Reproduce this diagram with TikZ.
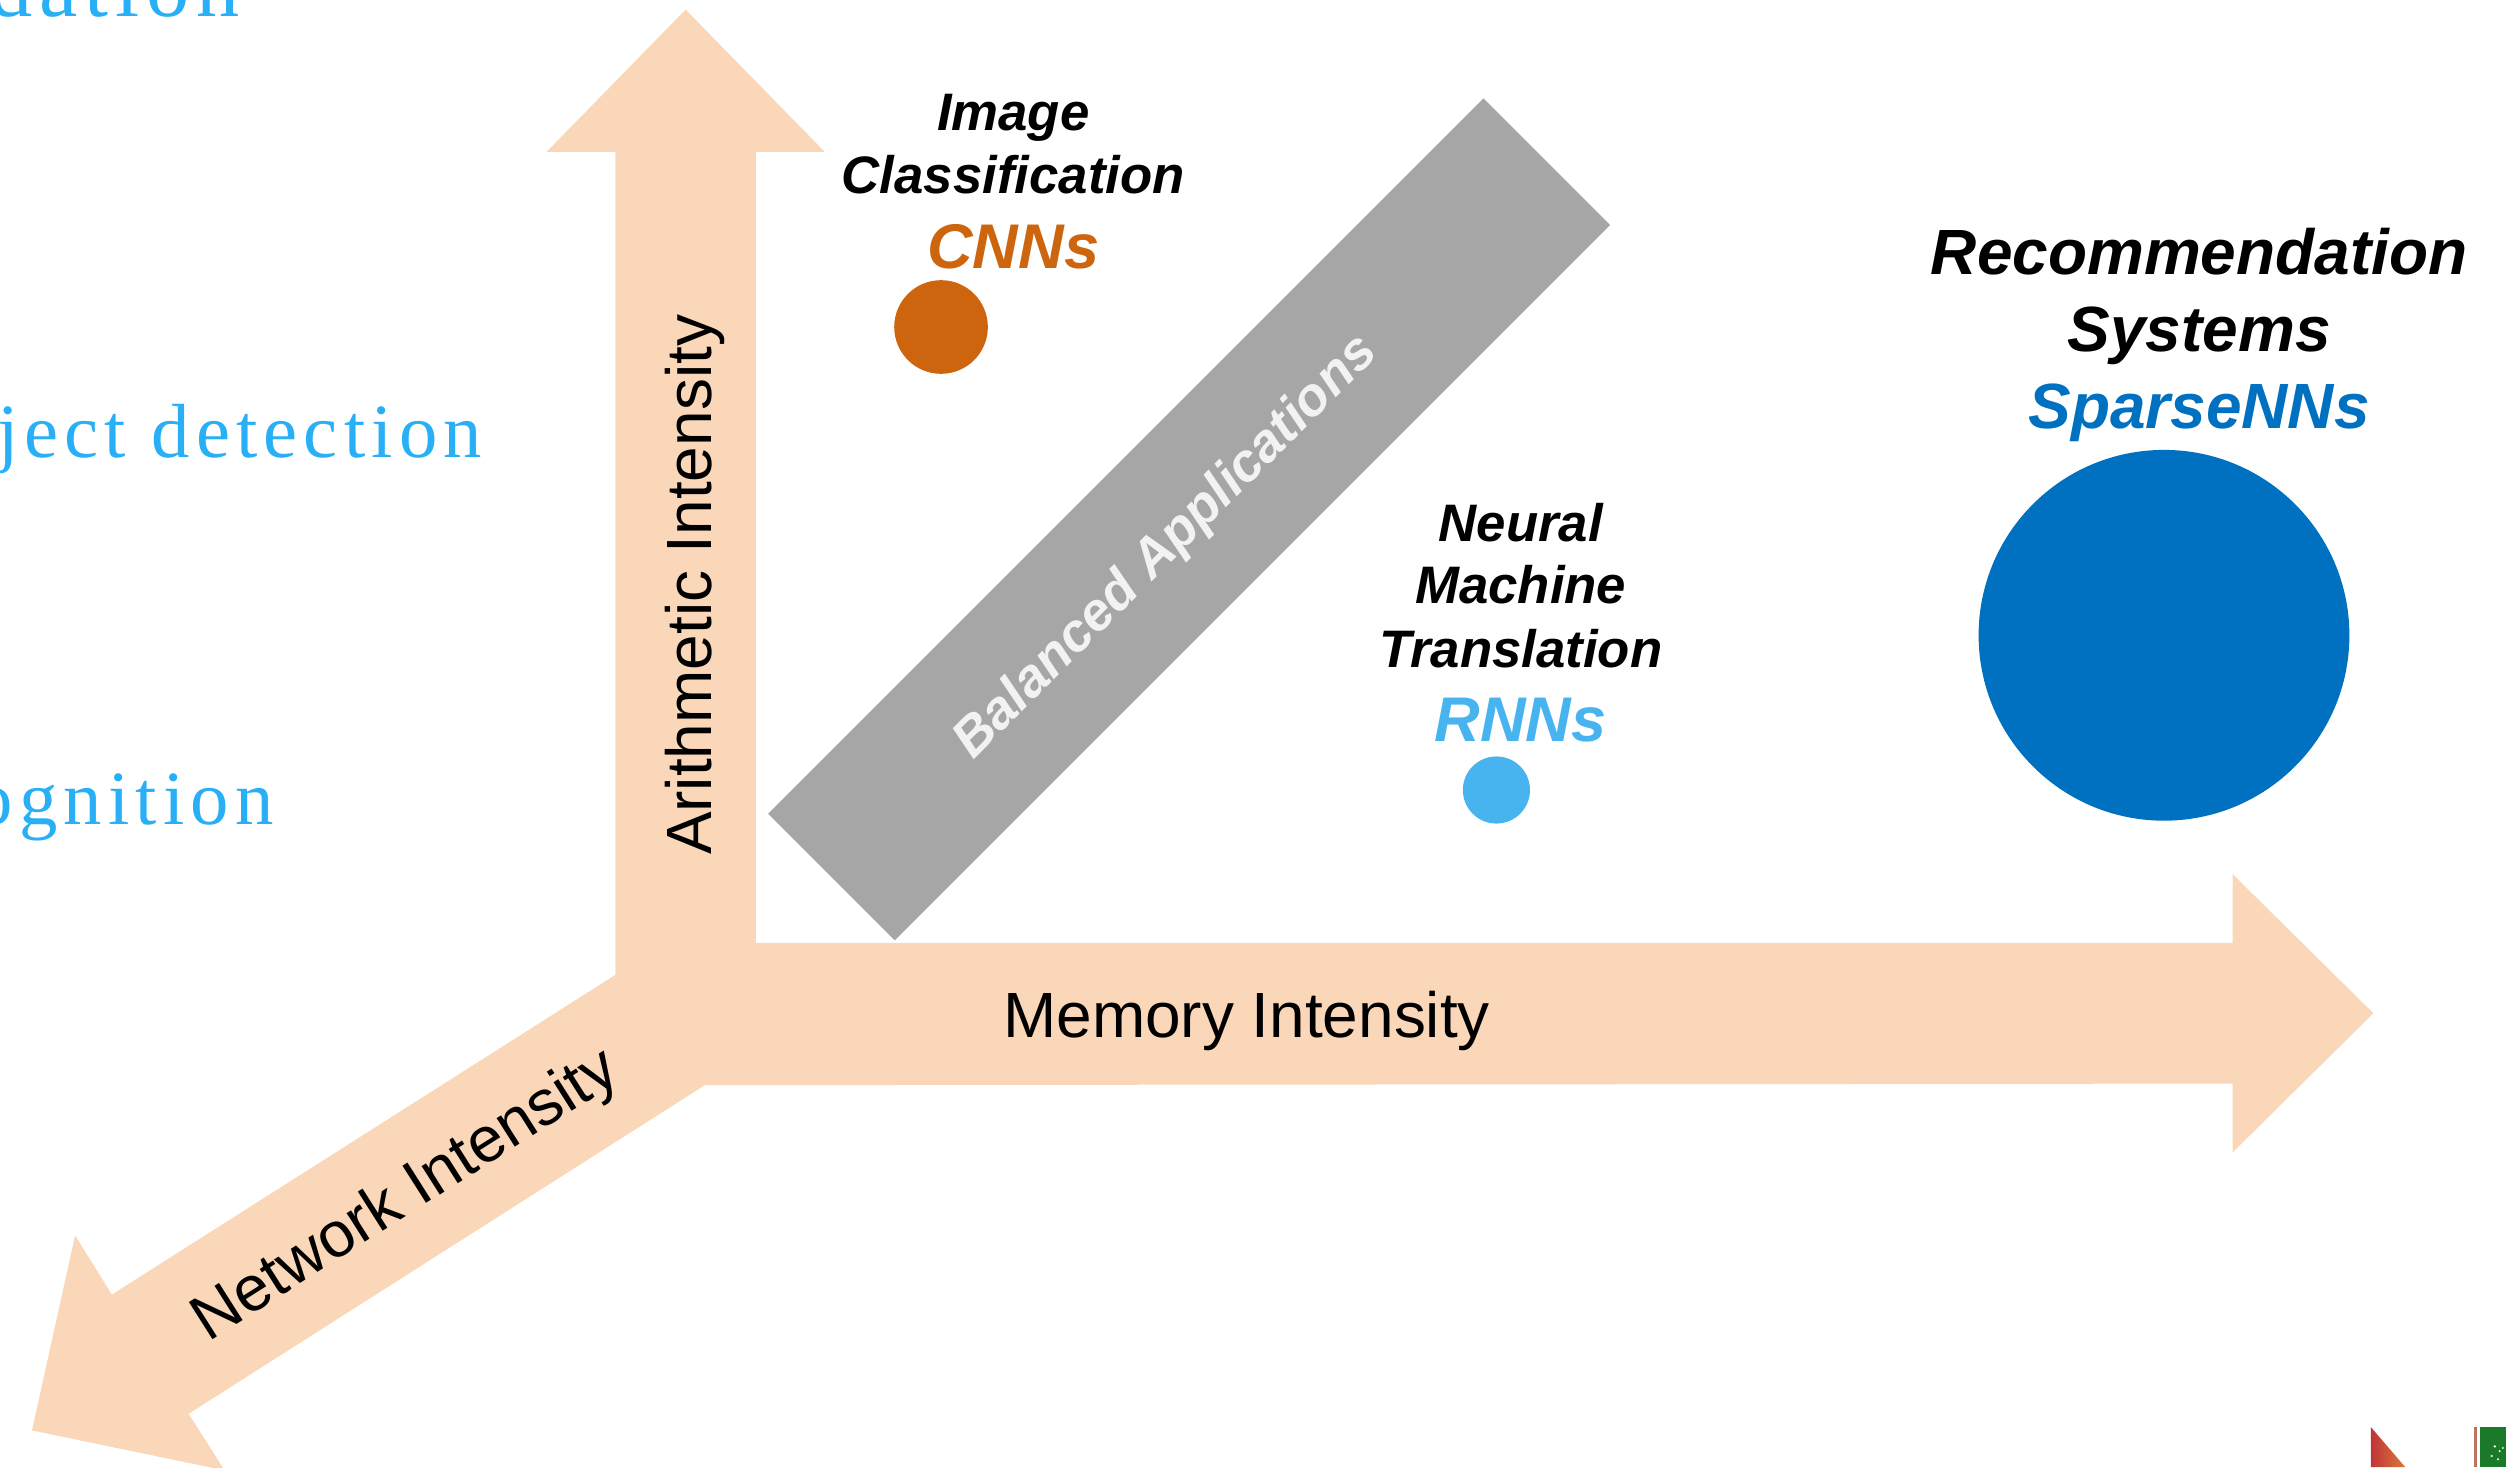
\documentclass[tikz,border=0pt]{standalone}
\usepackage{fontspec}
\setmainfont{Liberation Sans}
\newfontfamily\leftserif{Liberation Serif}[LetterSpace=8]

\definecolor{axisfill}{RGB}{250,215,184}
\definecolor{balgray}{RGB}{166,166,166}
\definecolor{baltext}{RGB}{242,242,242}
\definecolor{cnnorange}{RGB}{204,101,14}
\definecolor{rnnblue}{RGB}{71,179,239}
\definecolor{sparseblue}{RGB}{0,112,192}
\definecolor{taskblue}{RGB}{40,175,245}
\definecolor{logored}{RGB}{192,52,56}
\definecolor{logoorange}{RGB}{218,122,56}
\definecolor{logoline}{RGB}{190,115,95}
\definecolor{logogreen}{RGB}{26,122,42}

\begin{document}
\begin{tikzpicture}[x=1pt,y=-1pt,
  axislabel/.style={inner sep=0, anchor=base, font=\fontsize{40}{48}\selectfont},
  applabel/.style={inner sep=0, anchor=base, font=\bfseries\itshape\fontsize{33}{40}\selectfont},
  biglabel/.style={inner sep=0, anchor=base, font=\bfseries\itshape\fontsize{40}{48}\selectfont},
  modellabel/.style={inner sep=0, anchor=base, font=\bfseries\itshape\fontsize{39.5}{48}\selectfont},
  tasktext/.style={inner sep=0, anchor=base west, text=taskblue},
  appdot/.style={circle, inner sep=0, draw=none}
]
\useasboundingbox (0,0) rectangle (1568,918);
\clip (0,0) rectangle (1568,918);

% clipped task names on the left edge
\node[tasktext, font=\leftserif\fontsize{54}{54}\selectfont] (taskrec) at (-7,10.4) {dation};
\node[tasktext, font=\leftserif\fontsize{48}{48}\selectfont] (taskobj) at (-2,286) {ject detection};
\node[tasktext, font=\leftserif\fontsize{48}{48}\selectfont] (taskspeech) at (-16,515.6) {ognition};

% three-way axis arrows
\coordinate (vtip) at (429,6);
\coordinate (vheadR) at (516,95);
\coordinate (vneckR) at (473,95);
\coordinate (corner) at (473,590);
\coordinate (hneckT) at (1397,590);
\coordinate (hheadT) at (1397,547);
\coordinate (htip) at (1485,634);
\coordinate (hheadB) at (1397,721);
\coordinate (hneckB) at (1397,678);
\coordinate (hstart) at (441,679);
\coordinate (nneckB) at (118,884.6);
\coordinate (nheadB) at (140.5,920);
\coordinate (ntip) at (20,895);
\coordinate (nheadT) at (47,773);
\coordinate (nneckT) at (70,810);
\coordinate (nstart) at (385,610);
\coordinate (vneckL) at (385,95);
\coordinate (vheadL) at (342,95);
\fill[axisfill] (vtip) -- (vheadR) -- (vneckR) -- (corner) -- (hneckT) -- (hheadT)
  -- (htip) -- (hheadB) -- (hneckB) -- (hstart) -- (nneckB) -- (nheadB) -- (ntip)
  -- (nheadT) -- (nneckT) -- (nstart) -- (vneckL) -- (vheadL) -- cycle;

\node[axislabel, rotate=90] (arith) at (445,366) {Arithmetic Intensity};
\node[axislabel] (memory) at (780,649) {Memory Intensity};
\node[axislabel, rotate=32.4] (network) at (260,757.5) {Network Intensity};

% balanced applications band
\node[fill=balgray, draw=none, rotate=45, minimum width=633pt, minimum height=112pt,
  inner sep=0] (balband) at (744,325) {};
\node[applabel, text=baltext, rotate=45, font=\bfseries\itshape\fontsize{33.5}{40}\selectfont]
  (baltxt) at (736,349) {Balanced Applications};

% CNNs
\node[applabel] (imgA) at (634,81.4) {Image};
\node[applabel] (imgB) at (634,121) {Classification};
\node[modellabel, text=cnnorange] (cnn) at (634,168) {CNNs};
\node[appdot, fill=cnnorange, minimum size=58.6pt] (cnndot) at (588.8,204.6) {};

% RNNs
\node[applabel] (nmtA) at (951.5,339) {Neural};
\node[applabel] (nmtB) at (951.5,377.5) {Machine};
\node[applabel] (nmtC) at (951.5,417.8) {Translation};
\node[modellabel, text=rnnblue] (rnn) at (951.5,464) {RNNs};
\node[appdot, fill=rnnblue, minimum size=42pt] (rnndot) at (936.3,494.3) {};

% SparseNNs
\node[biglabel] (recA) at (1376,171.5) {Recommendation};
\node[biglabel] (recB) at (1376,220) {Systems};
\node[biglabel, text=sparseblue] (sparse) at (1376,268) {SparseNNs};
\node[appdot, fill=sparseblue, minimum size=232pt] (sparsedot) at (1354,397.5) {};

% logo fragments at the lower right edge
\shade[left color=logored, right color=logoorange] (1483.5,893) -- (1483.5,918) -- (1505,918) -- cycle;
\fill[logoline] (1548,893) rectangle (1550,918);
\fill[logogreen] (1552,893) rectangle (1568,918);
\fill[white] (1561,905) circle (0.8) (1564,908) circle (0.7) (1559,911) circle (0.7)
  (1563,913) circle (0.7) (1566,906) circle (0.6);
\end{tikzpicture}
\end{document}
